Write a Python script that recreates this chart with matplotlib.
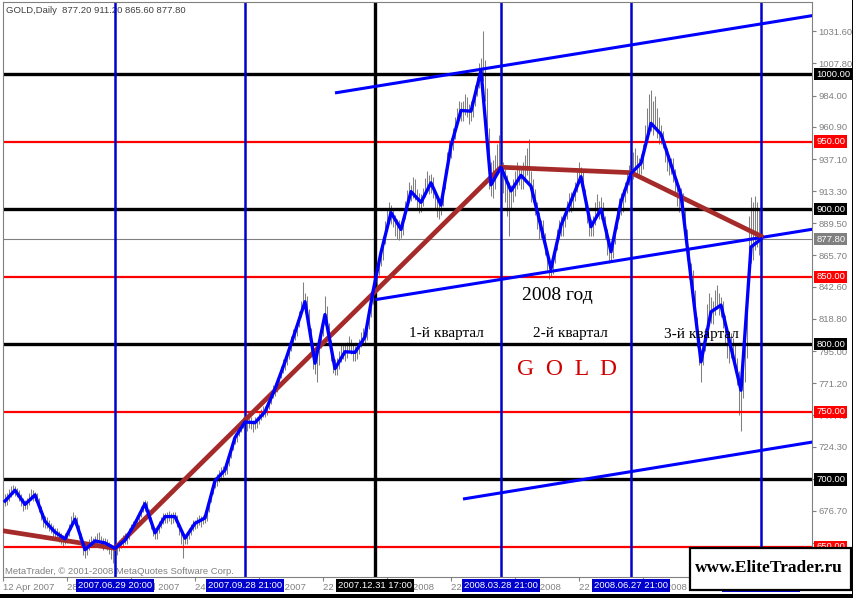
import numpy as np
import matplotlib.pyplot as plt
import matplotlib.transforms as mtransforms
from matplotlib.patches import Rectangle

plt.rcParams['font.family'] = ['Liberation Sans', 'DejaVu Sans']

# --- data -------------------------------------------------------------
# daily bars (index 0 = 12 Apr 2007), grouped by week
bar_hi = [688, 689,
          690, 693, 695, 696, 695,  694, 692, 689, 686, 685,  686, 690, 693, 692, 691,
          690, 686, 680, 675, 673,  672, 670, 668, 666, 664,  664, 662, 660, 659, 660,
          662, 667, 673, 676, 674,  672, 666, 660, 654, 651,  653, 656, 658, 657, 658,
          660, 661, 658, 657, 657,  656, 654, 652, 651, 653,  653, 655, 657, 659, 660,
          660, 664, 667, 669, 670,  672, 676, 680, 684, 685,  684, 678, 672, 666, 664,
          665, 669, 672, 675, 675,  676, 677, 675, 676, 676,  674, 668, 662, 660, 659,
          661, 664, 667, 670, 670,  672, 674, 673, 674, 675,  678, 686, 692, 698, 702,
          704, 707, 709, 710, 710,  713, 719, 725, 731, 734,  737, 740, 744, 746, 747,
          745, 747, 746, 744, 746,  746, 749, 752, 754, 754,  757, 761, 765, 770, 771,
          775, 779, 784, 789, 791,  796, 800, 806, 811, 813,  818, 825, 832, 846, 838,
          836, 826, 812, 798, 792,  792, 800, 811, 820, 836,  828, 816, 803, 791, 789,
          790, 795, 800, 801, 800,  802, 806, 804, 800, 799,  800, 804, 809, 812, 811,
          815, 824, 834, 843,  845, 855, 864, 872,
          880, 891, 899, 905, 903,  901, 896, 893, 892, 890,  896, 906, 914, 920, 918,
          924, 922, 915, 912, 911,  916, 923, 928, 925, 926,  924, 914, 909, 906, 909,
          918, 930, 942, 951, 953,  960, 968, 975, 980, 979,  980, 985, 983, 978, 980,
          984, 992, 998, 1008, 1012,  1032, 1010, 990, 960, 935,  936, 940, 948, 955, 945,
          935, 930, 925, 920, 918,  922, 928, 935, 932, 930,  935, 940, 945, 952, 928,
          922, 915, 905, 898, 892,  892, 882, 870, 862, 860,  866, 875, 885, 892, 895,
          895, 900, 906, 912, 913,  913, 920, 928, 935, 931,  928, 915, 905, 896, 893,
          895, 905, 911, 906, 909,  905, 895, 885, 878, 876,  880, 890, 900, 908, 912,
          915, 920, 928, 933, 935,  942, 945, 940, 938, 941,  948, 962, 975, 985, 988,
          980, 984, 975, 968, 962,  958, 950, 945, 940, 938,  938, 930, 922, 918, 916,
          912, 900, 885, 870, 860,  855, 840, 820, 805, 793,  800, 812, 830, 838, 835,
          832, 840, 844, 838, 835,  832, 822, 812, 805, 808,  805, 800, 790, 780, 772,
          790, 800, 850, 895, 909,  905, 910, 905, 900, 911.2]
bar_lo = [679, 680,
          681, 684, 687, 689, 688,  687, 684, 680, 677, 678,  678, 681, 685, 684, 684,
          682, 676, 670, 665, 664,  664, 662, 660, 657, 657,  655, 654, 652, 651, 652,
          653, 658, 663, 667, 666,  664, 656, 650, 644, 642,  644, 648, 650, 650, 650,
          651, 653, 650, 648, 649,  648, 645, 641, 638, 645,  644, 647, 649, 651, 652,
          652, 656, 660, 662, 663,  664, 668, 672, 676, 677,  675, 669, 663, 658, 656,
          656, 660, 664, 667, 668,  668, 669, 667, 668, 669,  665, 659, 652, 642, 652,
          652, 656, 659, 662, 663,  664, 666, 665, 667, 668,  669, 676, 683, 689, 694,
          695, 698, 701, 702, 703,  704, 710, 716, 722, 726,  728, 732, 735, 738, 739,
          736, 738, 737, 735, 737,  738, 741, 744, 746, 746,  748, 752, 756, 760, 762,
          765, 770, 775, 779, 781,  785, 789, 795, 800, 803,  806, 813, 820, 827, 824,
          820, 808, 795, 782, 778,  772, 785, 797, 806, 814,  812, 800, 788, 779, 777,
          777, 782, 787, 789, 788,  790, 795, 793, 788, 788,  789, 793, 798, 801, 800,
          803, 811, 820, 830,  830, 843, 851, 858,
          862, 874, 884, 890, 889,  887, 880, 878, 877, 879,  881, 893, 902, 907, 906,
          908, 907, 899, 897, 898,  902, 909, 914, 911, 912,  908, 900, 894, 893, 896,
          902, 915, 927, 936, 938,  944, 952, 961, 966, 965,  965, 970, 968, 963, 965,
          968, 976, 984, 990, 994,  995, 980, 950, 915, 910,  908, 915, 925, 930, 925,
          912, 905, 895, 880, 900,  905, 910, 915, 918, 915,  915, 920, 925, 918, 905,
          905, 896, 885, 878, 879,  876, 866, 855, 848, 850,  852, 860, 870, 878, 880,
          880, 887, 893, 898, 898,  900, 906, 913, 920, 917,  912, 900, 890, 880, 880,
          880, 888, 895, 893, 893,  890, 878, 866, 860, 861,  864, 874, 885, 893, 896,
          898, 905, 912, 918, 918,  922, 928, 925, 924, 926,  930, 945, 955, 962, 958,
          955, 960, 953, 948, 948,  945, 935, 928, 925, 926,  920, 910, 902, 898, 900,
          895, 878, 862, 848, 842,  832, 815, 798, 785, 772,  785, 795, 808, 818, 816,
          815, 822, 826, 822, 820,  812, 800, 790, 786, 790,  790, 783, 770, 748, 736,
          760, 772, 790, 845, 860,  862, 870, 872, 866, 865.6]

# weekly closes (blue line), plotted on the last bar of each week
week_bar = list(range(1, 182, 5)) + [185] + list(range(189, 380, 5))
week_close = [684, 692, 681.5, 688.5, 669, 661, 656, 670.5, 648, 654.5,
              653, 649, 655, 667.5, 682, 660.5, 672.5, 672.5, 656.5, 667.5,
              671.5, 699, 707, 731, 742.5, 742, 750, 767, 787, 809,
              831.5, 786, 822, 782, 794.5, 794, 805.5, 839, 868, 897.5,
              885, 913, 905, 919.5, 903, 947, 973, 972.5, 1002.5, 918,
              931, 913.5, 925, 917, 887, 856, 888, 906, 924, 887,
              900, 868.5, 905.5, 926.5, 934, 963.5, 955.5, 933, 910.5, 849,
              787, 824, 829, 797.5, 766, 872, 877.8]

# brown trend line (bar, price)
trend_bar = [0, 56, 249, 314, 379]
trend_price = [662, 649, 931, 927, 880]

# blue channel rays: two anchor points each (bar, price)
channels = [((166, 986), (239, 1003.5)),
            ((186, 833), (379, 879)),
            ((230, 685.5), (404, 727.5))]

black_levels = [1000, 900, 800, 700]
red_levels = [950, 850, 750, 650]
last_close = 877.80

vline_bars = [56, 121, 186, 249, 314, 379]
vline_labels = ['2007.06.29 20:00', '2007.09.28 21:00', '2007.12.31 17:00',
                '2008.03.28 21:00', '2008.06.27 21:00', '2008.09.26 21:00']
vline_colors = ['#0000CD', '#0000CD', 'black', '#0000CD', '#0000CD', '#0000CD']

price_ticks = [1031.6, 1007.8, 984.0, 960.9, 937.1, 913.3, 889.5, 865.7, 842.6,
               818.8, 795.0, 771.2, 747.4, 724.3, 700.5, 676.7, 652.9]
date_bars = [0, 32, 64, 96, 128, 160, 192, 224, 256, 288, 320, 352]
date_labels = ['12 Apr 2007', '28 May 2007', '11 Jul 2007', '24 Aug 2007',
               '9 Oct 2007', '22 Nov 2007', '9 Jan 2008', '22 Feb 2008',
               '8 Apr 2008', '22 May 2008', '7 Jul 2008', '20 Aug 2008']

# --- figure -----------------------------------------------------------
W, H = 854, 598
fig = plt.figure(figsize=(W / 100, H / 100), dpi=100)
ax = fig.add_axes([2.5 / W, 21 / H, 810 / W, 575.5 / H])
ax.set_xlim(-0.25, 404.75)
ax.set_ylim(627.8, 1053.65)
ax.set_facecolor('white')
for s in ax.spines.values():
    s.set_color('#808080')
    s.set_linewidth(0.8)

grey = '#808080'
xa = mtransforms.blended_transform_factory(ax.transData, ax.transAxes)
ay = mtransforms.blended_transform_factory(ax.transAxes, ax.transData)

# price bars
ax.vlines(np.arange(len(bar_hi)), bar_lo, bar_hi, color=grey, lw=0.75, zorder=1.5)

# levels
for v in black_levels:
    ax.axhline(v, color='black', lw=2.4, zorder=2)
for v in red_levels:
    ax.axhline(v, color='#FF0000', lw=1.6, zorder=2)
ax.axhline(last_close, color=grey, lw=0.8, zorder=1.8)

for b, c in zip(vline_bars, vline_colors):
    ax.axvline(b, color=c, lw=2.4 if c == 'black' else 1.8, zorder=2)

# channel rays
for (b0, p0), (b1, p1) in channels:
    k = (p1 - p0) / (b1 - b0)
    ax.plot([b0, 420], [p0, p0 + k * (420 - b0)], color='#0000FF', lw=2.2,
            zorder=3, solid_capstyle='butt')

ax.plot(trend_bar, trend_price, color='#A52A2A', lw=3.4, zorder=3.5,
        solid_joinstyle='miter')
ax.plot(week_bar, week_close, color='#0000FF', lw=2.4, zorder=4)

# axes ticks
ax.yaxis.tick_right()
ax.set_yticks(price_ticks)
ax.set_yticklabels(['%.2f' % v for v in price_ticks])
ax.set_xticks(date_bars)
ax.set_xticklabels(date_labels, ha='left')
ax.tick_params(axis='both', colors=grey, labelcolor=grey, length=3, width=0.8,
               labelsize=6.8, pad=1.5)

# highlighted price labels
hl = [(v, 'black') for v in black_levels] + [(v, '#FF0000') for v in red_levels]
hl.append((last_close, grey))
for v, c in hl:
    ax.text(1.0045, v, '%.2f' % v, transform=ay, ha='left', va='center',
            color='white', fontsize=6.8, clip_on=False, zorder=6,
            bbox=dict(boxstyle='square,pad=0.18', fc=c, ec='none'))

# highlighted time labels
for b, lab, c in zip(vline_bars, vline_labels, vline_colors):
    ax.text(b, -0.0151, lab, transform=xa, ha='center', va='center',
            color='white', fontsize=6.8, clip_on=False, zorder=6,
            bbox=dict(boxstyle='square,pad=0.18', fc=c, ec='none'))

# header and footer text
ax.text(0.0043, 0.985, 'GOLD,Daily  877.20 911.20 865.60 877.80',
        transform=ax.transAxes, ha='left', va='center', color='#404040',
        fontsize=6.8, zorder=0.5)
ax.text(0.003, 0.0087, 'MetaTrader, \u00a9 2001-2008 MetaQuotes Software Corp.',
        transform=ax.transAxes, ha='left', va='center', color=grey,
        fontsize=6.8, zorder=0.5)

# annotations
serif = ['Liberation Serif', 'DejaVu Serif']
ax.text(277.25, 836, '2008 год', family=serif, fontsize=14, ha='center',
        va='center', color='black', zorder=5)
for b, p, t in [(221.75, 808.3, '1-й квартал'), (283.75, 808.3, '2-й квартал'),
                (349.25, 806.9, '3-й квартал')]:
    ax.text(b, p, t, family=serif, fontsize=11, ha='center', va='center',
            color='black', zorder=5)
ax.text(282, 781, 'G  O  L  D', family=serif, fontsize=17, ha='center',
        va='center', color='#D00000', zorder=5)

# watermark box and screen border
fig.patches.append(Rectangle((690 / W, 8 / H), 161 / W, 42 / H,
                             transform=fig.transFigure, fc='white', ec='black',
                             lw=1.6, zorder=5))
fig.text(769 / W, 1 - 568 / H, 'www.EliteTrader.ru', family=serif,
         fontweight='bold', fontsize=12.5, ha='center', va='center', zorder=6)
fig.patches.append(Rectangle((852 / W, 0), 2 / W, 1, transform=fig.transFigure,
                             fc='black', ec='none', zorder=7))
fig.patches.append(Rectangle((0, 0), 1, 4 / H, transform=fig.transFigure,
                             fc='black', ec='none', zorder=7))

fig.savefig('out.png', dpi=100)
